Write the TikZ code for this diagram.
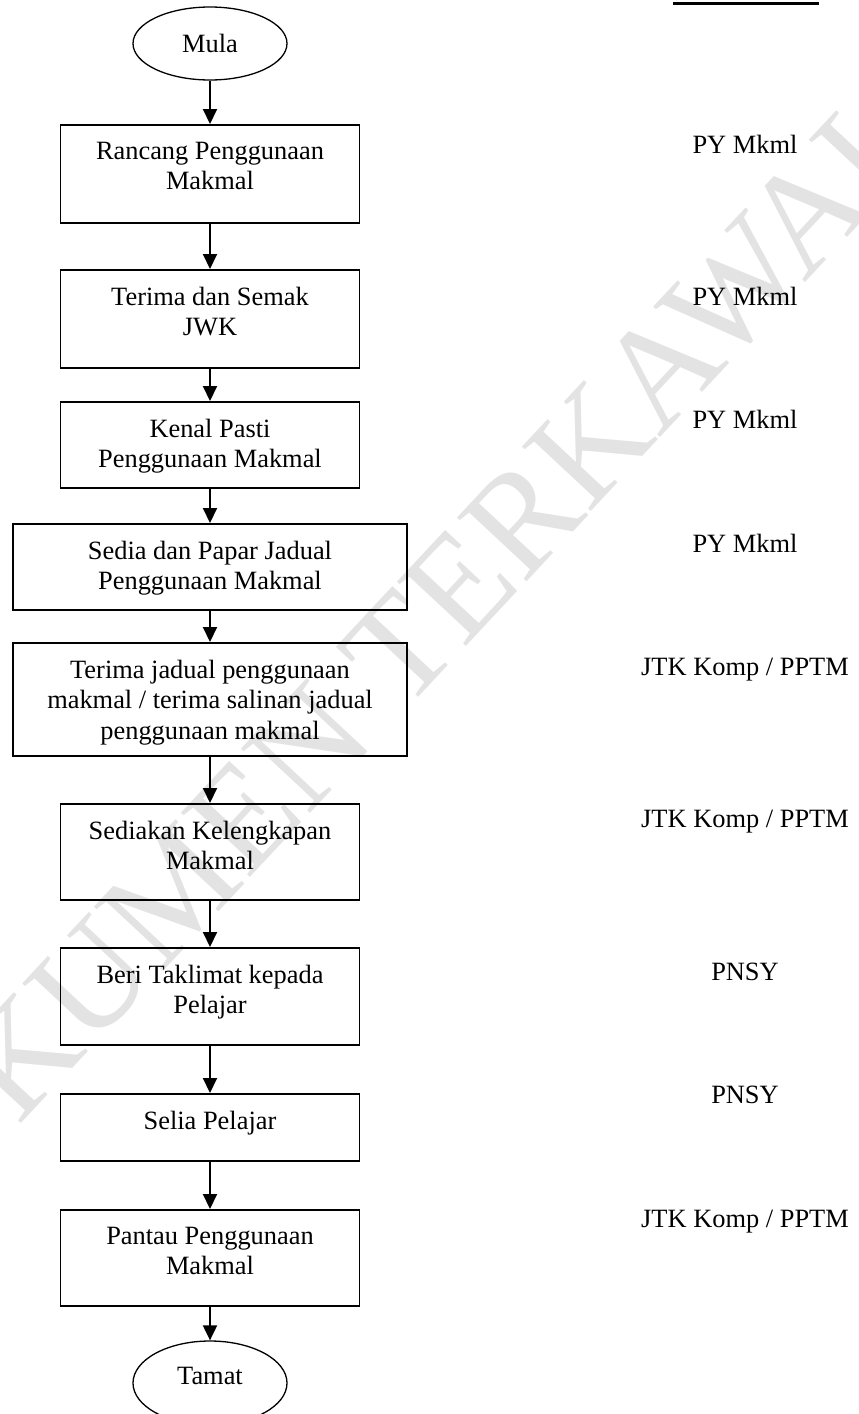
\documentclass[tikz,border=0pt]{standalone}
\usepackage{fontspec}
\setmainfont{Liberation Serif}
\usetikzlibrary{arrows.meta,shapes.geometric}
\begin{document}
\begin{tikzpicture}[x=0.5pt,y=-0.5pt,
  txtfont/.style={font=\fontsize{13.2pt}{15.25pt}\selectfont},
  box/.style={draw, line width=0.75pt, minimum width=149.5pt, inner sep=0, anchor=north},
  widebox/.style={box, minimum width=197pt},
  txt/.style={txtfont, align=center, inner sep=0, anchor=north},
  term/.style={draw, ellipse, line width=0.65pt, inner sep=0, minimum width=77pt, txtfont},
  role/.style={txtfont, inner sep=0, anchor=base},
  arr/.style={line width=1pt, -{Triangle[length=7.5pt,width=7pt]}},
  wmark/.style={text=black!11, inner sep=0, font=\fontsize{72pt}{72pt}\selectfont}
]
\useasboundingbox (0,0) rectangle (858,1414);
\fill[white] (0,0) rectangle (858,1414);

% watermark
\node[wmark, rotate=47] (wm) at (372,679) {DOKUMEN TERKAWAL};

% header remnant line
\draw[line width=1.5pt] (673,3) -- (819,3);

% terminals
\node[term, minimum height=36.5pt] (mula) at (210,43.5) {Mula};
\node[term, minimum height=42pt] (tamat) at (210,1383) {\raisebox{7pt}{Tamat}};

% process boxes
\node[box, minimum height=49pt]       (b1) at (210,124) {};
\node[box, minimum height=49pt]       (b2) at (210,269) {};
\node[box, minimum height=43pt]       (b3) at (210,401) {};
\node[widebox, minimum height=43pt]   (b4) at (210,523) {};
\node[widebox, minimum height=56.5pt] (b5) at (210,642) {};
\node[box, minimum height=48pt]       (b6) at (210,803) {};
\node[box, minimum height=48.5pt]     (b7) at (210,947) {};
\node[box, minimum height=33.5pt]     (b8) at (210,1093) {};
\node[box, minimum height=48pt]       (b9) at (210,1209) {};

% box texts
\node[txt] (t1) at ([yshift=-8.75pt]b1.north) {Rancang Penggunaan\\Makmal};
\node[txt] (t2) at ([yshift=-8.75pt]b2.north) {Terima dan Semak\\JWK};
\node[txt] (t3) at ([yshift=-8.75pt]b3.north) {Kenal Pasti\\Penggunaan Makmal};
\node[txt] (t4) at ([yshift=-8.75pt]b4.north) {Sedia dan Papar Jadual\\Penggunaan Makmal};
\node[txt] (t5) at ([yshift=-8.75pt]b5.north) {Terima jadual penggunaan\\makmal / terima salinan jadual\\penggunaan makmal};
\node[txt] (t6) at ([yshift=-8.75pt]b6.north) {Sediakan Kelengkapan\\Makmal};
\node[txt] (t7) at ([yshift=-8.75pt]b7.north) {Beri Taklimat kepada\\Pelajar};
\node[txt] (t8) at ([yshift=-8.75pt]b8.north) {Selia Pelajar};
\node[txt] (t9) at ([yshift=-8.75pt]b9.north) {Pantau Penggunaan\\Makmal};

% connectors
\draw[arr] (mula.south) -- (b1.north);
\draw[arr] (b1.south) -- (b2.north);
\draw[arr] (b2.south) -- (b3.north);
\draw[arr] (b3.south) -- (b4.north);
\draw[arr] (b4.south) -- (b5.north);
\draw[arr] (b5.south) -- (b6.north);
\draw[arr] (b6.south) -- (b7.north);
\draw[arr] (b7.south) -- (b8.north);
\draw[arr] (b8.south) -- (b9.north);
\draw[arr] (b9.south) -- (tamat.north);

% responsibility column
\node[role] (r1) at (745,153)  {PY Mkml};
\node[role] (r2) at (745,305)  {PY Mkml};
\node[role] (r3) at (745,428)  {PY Mkml};
\node[role] (r4) at (745,552)  {PY Mkml};
\node[role] (r5) at (745,675)  {JTK Komp / PPTM};
\node[role] (r6) at (745,827)  {JTK Komp / PPTM};
\node[role] (r7) at (745,980)  {PNSY};
\node[role] (r8) at (745,1103) {PNSY};
\node[role] (r9) at (745,1227) {JTK Komp / PPTM};
\end{tikzpicture}
\end{document}
